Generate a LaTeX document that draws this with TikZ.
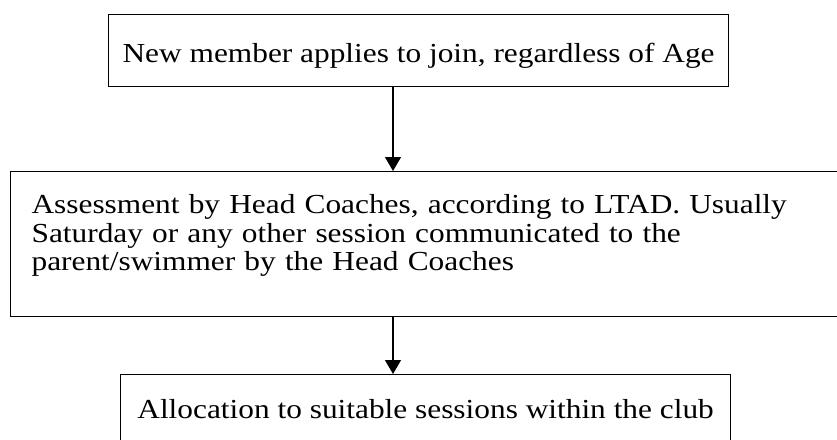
\documentclass[tikz,border=0pt]{standalone}
\usepackage{fontspec}
\setmainfont{Liberation Serif}[FakeStretch=1.14]
\usetikzlibrary{positioning,arrows.meta}
\tikzset{
  stagebox/.style={draw, line width=1.2pt, anchor=north west, inner xsep=2pt, inner ysep=0pt, font=\fontsize{27.5}{28.5}\selectfont},
  stagearrow/.style={line width=1.2pt, -{Triangle[length=14pt, width=16pt]}}
}
\begin{document}
\begin{tikzpicture}[x=1pt, y=-1pt]
    \useasboundingbox (0,0) rectangle (837,439);
    \clip (0,0) rectangle (837,439);
    \coordinate (axis) at (393,0);
    \node[stagebox, minimum width=620pt, minimum height=72pt, text height=30pt, text depth=6pt] (apply) at (108,14) {New member applies to join, regardless of Age};
    \node[stagebox, inner xsep=21pt, minimum width=832pt, minimum height=145pt, text width=790pt, align=left, text height=20pt, text depth=81pt] (assess) at (10,171) {Assessment by Head Coaches, according to LTAD. Usually\\Saturday or any other session communicated to the\\parent/swimmer by the Head Coaches};
    \node[stagebox, minimum width=610pt, minimum height=72pt, text height=24pt, text depth=8pt] (allocate) at (120,374) {Allocation to suitable sessions within the club};
    \draw[stagearrow] (apply.south -| axis) -- (assess.north -| axis);
    \draw[stagearrow] (assess.south -| axis) -- (allocate.north -| axis);
\end{tikzpicture}
\end{document}
